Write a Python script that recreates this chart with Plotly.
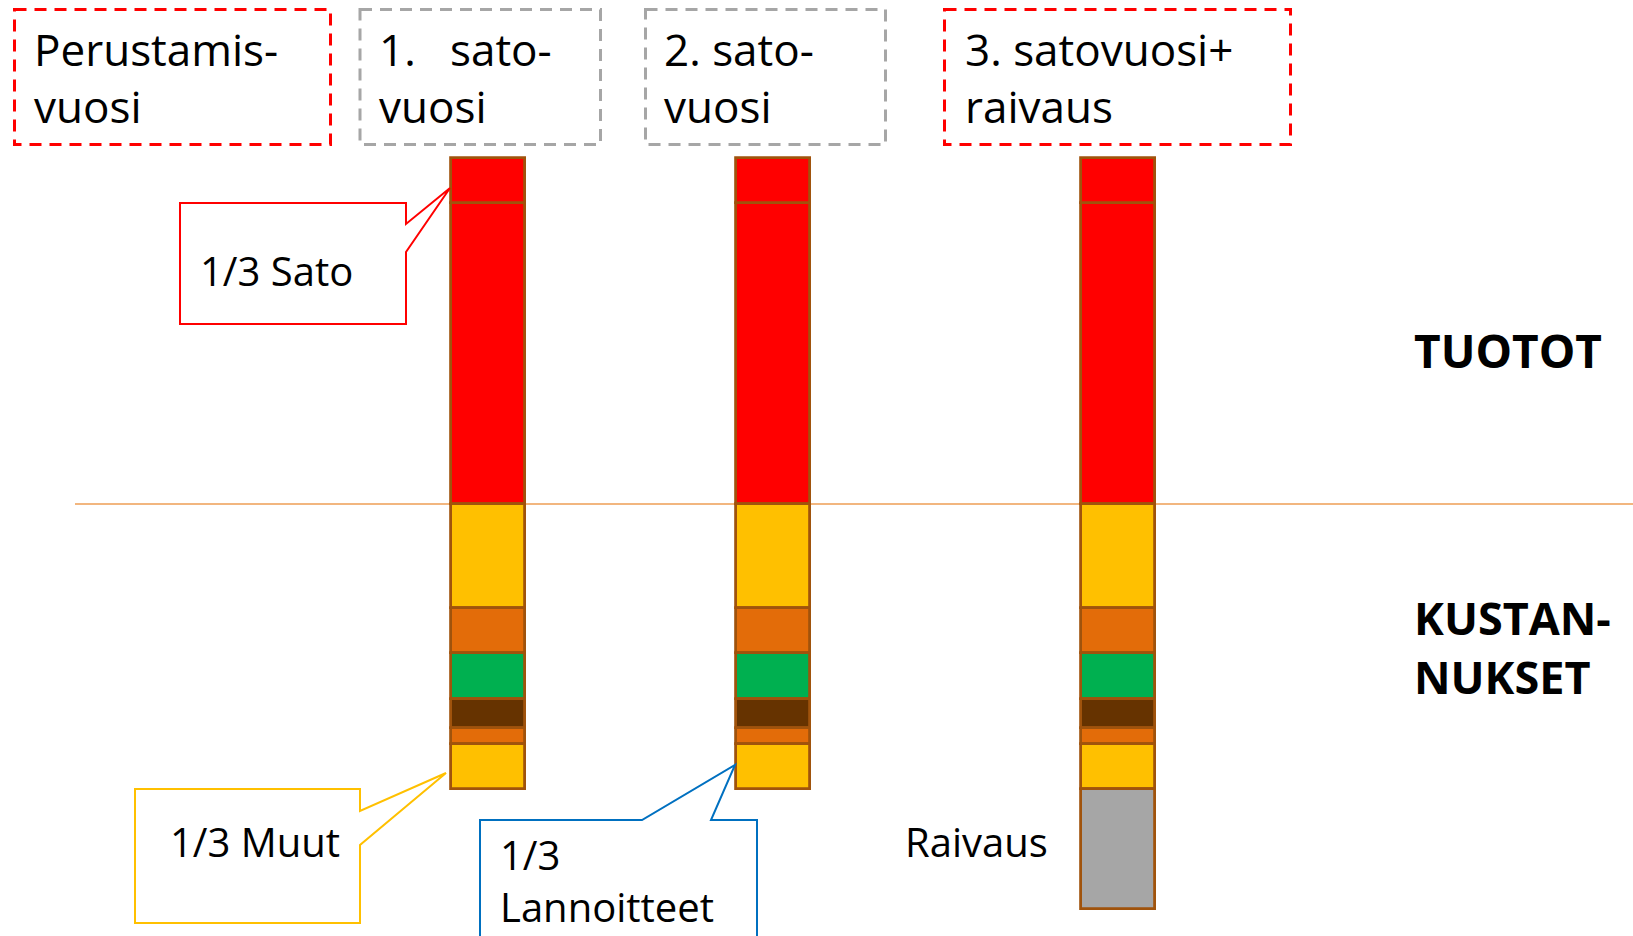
import plotly.graph_objects as go

# ---------------- data ----------------
bar_years = ["1. satovuosi", "2. satovuosi", "3. satovuosi+raivaus"]
header_labels = ["Perustamis-<br>vuosi", "1.&nbsp;&nbsp; sato-<br>vuosi",
                 "2. sato-<br>vuosi", "3. satovuosi+<br>raivaus"]

# revenues (positive, stacked upward)
sato_main = [30.1, 30.1, 30.1]
sato_third = [4.5, 4.5, 4.5]

# costs (drawn downward, stacked from the zero line)
cost_muut = [10.4, 10.4, 10.4]
cost_b = [4.5, 4.5, 4.5]
cost_c = [4.6, 4.6, 4.6]
cost_d = [2.9, 2.9, 2.9]
cost_e = [1.6, 1.6, 1.6]
cost_third = [4.5, 4.5, 4.5]
cost_raivaus = [None, None, 12.0]

# ---------------- layout / style ----------------
W, H = 1633, 936
ZERO_PX = 504.0
PX_PER_UNIT = 10.0
BAR_X = [487.5, 772.5, 1117.5]   # horizontal placement of the three bars
BAR_W = 74
EDGE = "#A0530C"
FONT = "Open Sans"


def Y(py):
    return (ZERO_PX - py) / PX_PER_UNIT


fig = go.Figure()


def add_bar(name, vals, color, sign):
    ys = [None if v is None else sign * v for v in vals]
    fig.add_trace(go.Bar(
        x=BAR_X, y=ys, name=name, width=BAR_W,
        marker=dict(color=color, line=dict(color=EDGE, width=2.8)),
        customdata=bar_years, hovertemplate="%{customdata}<br>" + name + ": %{y}<extra></extra>",
    ))


add_bar("Sato", sato_main, "#FF0000", 1)
add_bar("1/3 Sato", sato_third, "#FF0000", 1)
add_bar("Muut", cost_muut, "#FFC000", -1)
add_bar("Kustannus B", cost_b, "#E36C09", -1)
add_bar("Kustannus C", cost_c, "#00B050", -1)
add_bar("Kustannus D", cost_d, "#663300", -1)
add_bar("Kustannus E", cost_e, "#E36C09", -1)
add_bar("1/3 Muut", cost_third, "#FFC000", -1)
add_bar("Raivaus", cost_raivaus, "#A6A6A6", -1)

shapes = []
# zero line
shapes.append(dict(type="line", xref="x", yref="y", x0=75, x1=W, y0=0, y1=0,
                   line=dict(color="#EE9E55", width=1.5), layer="below"))

# header dashed boxes
boxes = [(14.5, 330.5, "#FF0000"), (360, 600.5, "#A6A6A6"),
         (645.5, 885.5, "#A6A6A6"), (944.5, 1290.5, "#FF0000")]
for x0, x1, col in boxes:
    shapes.append(dict(type="rect", xref="x", yref="y", x0=x0, x1=x1, y0=Y(9.5), y1=Y(144.5),
                       line=dict(color=col, width=3, dash="12px,8px"), fillcolor="rgba(0,0,0,0)"))


def path(points):
    return "M " + " L ".join(f"{px},{Y(py)}" for px, py in points)


# callouts
shapes.append(dict(type="path", xref="x", yref="y",
                   path=path([(180, 203), (406, 203), (406, 224), (450, 188), (406, 252),
                              (406, 324), (180, 324)]) + " Z",
                   line=dict(color="#FF0000", width=2), fillcolor="white"))
shapes.append(dict(type="path", xref="x", yref="y",
                   path=path([(135, 789), (360, 789), (360, 811), (446, 773), (360, 845),
                              (360, 923), (135, 923)]) + " Z",
                   line=dict(color="#FFC000", width=2), fillcolor="white"))
shapes.append(dict(type="path", xref="x", yref="y",
                   path=path([(480, 980), (480, 820), (642, 820), (735, 765), (711, 820),
                              (757, 820), (757, 980)]),
                   line=dict(color="#0070C0", width=2), fillcolor="white"))

annotations = []


def txt(text, x, py, size, bold=False):
    annotations.append(dict(
        text=f"<b>{text}</b>" if bold else text, x=x, y=Y(py), xref="x", yref="y",
        xanchor="left", yanchor="middle", align="left", showarrow=False,
        font=dict(family=FONT, size=size, color="black")))


header_x = [32, 377, 662, 963]
for lab, hx in zip(header_labels, header_x):
    txt(lab, hx, 77, 44)

txt("1/3 Sato", 198, 270, 40)
txt("1/3 Muut", 168, 841, 40)
txt("1/3<br>Lannoitteet", 498, 880, 40)
txt("Raivaus", 903, 841, 40)
txt("TUOTOT", 1412, 350, 46, bold=True)
txt("KUSTAN-<br>NUKSET", 1412, 647, 45, bold=True)

fig.update_layout(
    width=W, height=H, margin=dict(l=0, r=0, t=0, b=0),
    paper_bgcolor="white", plot_bgcolor="white",
    barmode="relative", bargap=0, showlegend=False,
    xaxis=dict(range=[0, W], visible=False, fixedrange=True),
    yaxis=dict(range=[Y(H), Y(0)], visible=False, fixedrange=True),
    shapes=shapes, annotations=annotations,
    font=dict(family=FONT),
)

fig.write_html("out.html", config={"displayModeBar": False},
               post_script="document.body.style.margin='0';document.body.style.overflow='hidden';")
